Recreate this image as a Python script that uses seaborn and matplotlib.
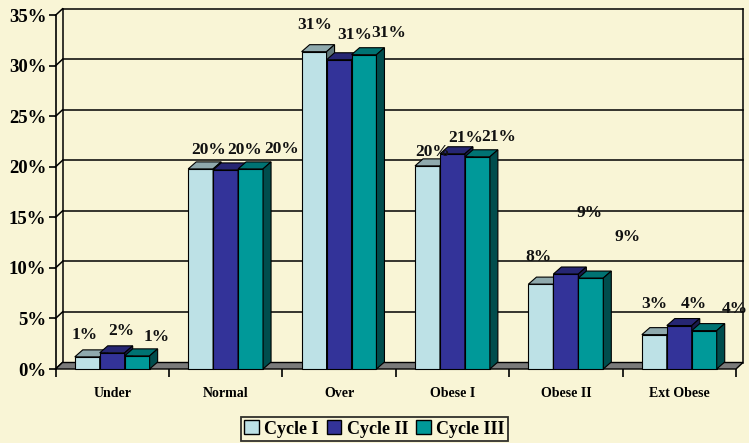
import matplotlib
matplotlib.use("Agg")
import matplotlib.pyplot as plt
from matplotlib.patches import Polygon, Patch
import pandas as pd
import seaborn as sns

# ---- data -------------------------------------------------------------
categories = ["Under", "Normal", "Over", "Obese I", "Obese II", "Ext Obese"]
series = ["Cycle I", "Cycle II", "Cycle III"]
cycle_1 = [1.2, 19.8, 31.4, 20.1, 8.4, 3.4]
cycle_2 = [1.6, 19.7, 30.6, 21.3, 9.4, 4.3]
cycle_3 = [1.3, 19.8, 31.1, 21.0, 9.0, 3.8]
y_ticks = [0, 5, 10, 15, 20, 25, 30, 35]

# ---- styling ----------------------------------------------------------
BG = "#F9F5D6"
front_colors = ["#BDE1E6", "#333399", "#009999"]
top_colors = ["#8FA9AD", "#262673", "#007373"]
side_colors = ["#60777A", "#1A1A4D", "#004D4D"]
FLOOR = "#7A7A7A"
FONT = "Liberation Serif"

# value-label nudges (pixels, right/up from the bar's front-top centre)
label_nudge = [
    [(-2.5, 22), (8, 19), (1, 27), (5, 14), (-2, 27), (0, 31)],
    [(9.5, 22), (19, 20), (15.5, 25), (13, 16), (23.5, 61), (15, 22)],
    [(19, 19), (31, 20), (25, 22), (21, 20), (37, 41), (31, 22)],
]

W, H = 749, 443
fig = plt.figure(figsize=(W / 100, H / 100), dpi=100, facecolor=BG)
ax_left, ax_right, ax_bottom, ax_top = 55.5, 736, 369, 15.3
ax = fig.add_axes([ax_left / W, (H - ax_bottom) / H,
                   (ax_right - ax_left) / W, (ax_bottom - ax_top) / H])
ax.set_facecolor("none")

df = pd.DataFrame({
    "Category": categories * 3,
    "Value": cycle_1 + cycle_2 + cycle_3,
    "Cycle": [s for s in series for _ in categories],
})

sns.barplot(data=df, x="Category", y="Value", hue="Cycle", order=categories,
            hue_order=series, palette=front_colors, saturation=1, width=0.66,
            edgecolor="black", linewidth=0.8, legend=False, ax=ax)

ax.set_xlim(-0.5, len(categories) - 0.5)
ax.set_ylim(0, 35)

# pixel -> data conversion
px_x = (len(categories)) / (ax_right - ax_left)
px_y = 35 / (ax_bottom - ax_top)

WALL_DX, WALL_DY = 7 * px_x, 6.5 * px_y
BAR_DX, BAR_DY = 8 * px_x, 7 * px_y
x_lo, x_hi = -0.5, len(categories) - 0.5

# back wall with gridlines
for yv in y_ticks[1:]:
    ax.plot([x_lo + WALL_DX, x_hi + WALL_DX], [yv + WALL_DY] * 2,
            color="black", lw=1.1, zorder=1, clip_on=False)
for xv in (x_lo, x_hi):
    ax.plot([xv + WALL_DX] * 2, [WALL_DY, 35 + WALL_DY], color="black",
            lw=1.1, zorder=1, clip_on=False)
# connectors from the axis to the wall
for yv in y_ticks:
    ax.plot([x_lo, x_lo + WALL_DX], [yv, yv + WALL_DY], color="black",
            lw=1.1, zorder=1, clip_on=False)

# floor
floor = Polygon([(x_lo, 0), (x_hi, 0), (x_hi + WALL_DX, WALL_DY),
                 (x_lo + WALL_DX, WALL_DY)], closed=True, facecolor=FLOOR,
                edgecolor="black", lw=1.0, zorder=2, clip_on=False)
ax.add_patch(floor)

# 3D shading on each bar, drawn left to right
bars = []
for hi, cont in enumerate(ax.containers):
    for ci, bar in enumerate(cont):
        bars.append((bar.get_x(), hi, ci, bar))
bars.sort(key=lambda b: b[0])

for k, (x0, hi, ci, bar) in enumerate(bars):
    x1 = x0 + bar.get_width()
    h = bar.get_height()
    base = 10 + 3 * k
    bar.set_zorder(base)
    bar.set_clip_on(False)
    top = Polygon([(x0, h), (x1, h), (x1 + BAR_DX, h + BAR_DY),
                   (x0 + BAR_DX, h + BAR_DY)], closed=True,
                  facecolor=top_colors[hi], edgecolor="black", lw=0.8,
                  zorder=base + 1, clip_on=False)
    side = Polygon([(x1, 0), (x1 + BAR_DX, BAR_DY), (x1 + BAR_DX, h + BAR_DY),
                    (x1, h)], closed=True, facecolor=side_colors[hi],
                   edgecolor="black", lw=0.8, zorder=base + 2, clip_on=False)
    ax.add_patch(top)
    ax.add_patch(side)

    ndx, ndy = label_nudge[hi][ci]
    ax.text((x0 + x1) / 2 + ndx * px_x, h + ndy * px_y, f"{h:.0f}%",
            ha="center", va="center", fontsize=12.5, fontweight="bold",
            family=FONT, color="#111111", zorder=200, clip_on=False)

# axes and ticks
for name, sp in ax.spines.items():
    sp.set_visible(name == "left")
ax.spines["left"].set_linewidth(1.2)
ax.set_yticks(y_ticks)
ax.set_yticklabels([f"{v}%" for v in y_ticks], fontsize=13.5, fontweight="bold",
                   family=FONT)
ax.tick_params(axis="y", length=5, width=1.2, pad=1.5)

ax.set_xticks(range(len(categories)))
ax.set_xticklabels(categories, fontsize=10, fontweight="bold", family=FONT)
ax.set_xticks([x_lo + i for i in range(len(categories) + 1)], minor=True)
ax.tick_params(axis="x", which="major", length=0, pad=13)
ax.tick_params(axis="x", which="minor", length=6, width=1.2)
ax.set_xlabel("")
ax.set_ylabel("")

handles = [Patch(facecolor=c, edgecolor="black", lw=1.0, label=s)
           for c, s in zip(front_colors, series)]
leg = fig.legend(handles=handles, loc="lower center", bbox_to_anchor=(0.5, 0.004),
                 ncol=3, frameon=True, fancybox=False, facecolor=BG,
                 edgecolor="black", prop={"family": FONT, "weight": "bold",
                                           "size": 13},
                 handlelength=0.8, handleheight=0.8, handletextpad=0.3,
                 columnspacing=0.45, borderpad=0.2, borderaxespad=0.0)
leg.get_frame().set_linewidth(1.3)

fig.savefig("out.png", dpi=100, facecolor=BG)
